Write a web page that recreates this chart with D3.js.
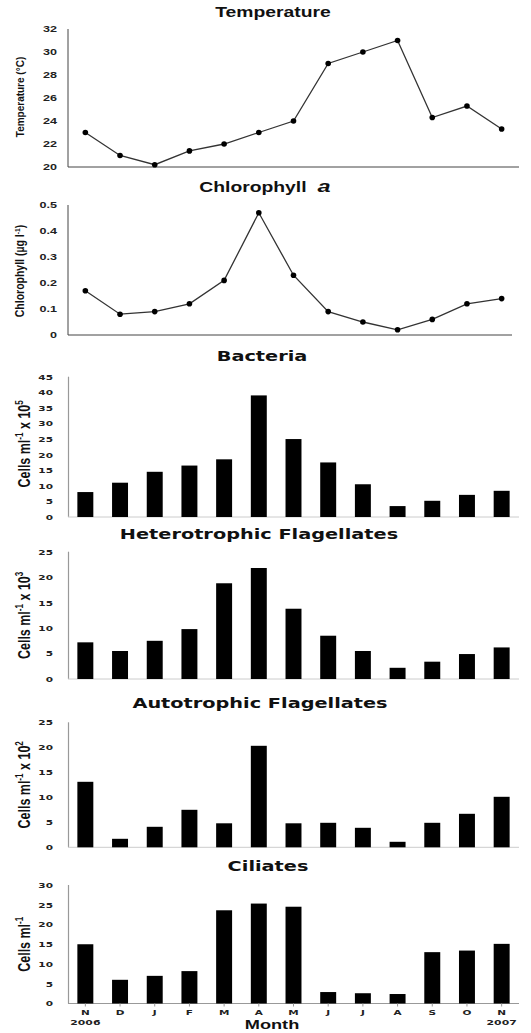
<!DOCTYPE html>
<html><head><meta charset="utf-8">
<script src="https://cdn.jsdelivr.net/npm/d3@7"></script>
<style>body{margin:0;background:#fff} svg{display:block}</style>
</head><body>
<svg id="c" width="531" height="1033"></svg>
<script>
// ---------- data ----------
const months = ["N","D","J","F","M","A","M","J","J","A","S","O","N"];
const yearLabels = ["2006","","","","","","","","","","","","2007"];
const temperature = [23, 21, 20.2, 21.4, 22, 23, 24, 29, 30, 31, 24.3, 25.3, 23.3];
const chlorophyll = [0.17, 0.08, 0.09, 0.12, 0.21, 0.47, 0.23, 0.09, 0.05, 0.02, 0.06, 0.12, 0.14];
const bacteria = [8, 11, 14.5, 16.5, 18.5, 39, 25, 17.5, 10.5, 3.5, 5.2, 7.1, 8.4];
const heteroFlag = [7.2, 5.5, 7.5, 9.8, 18.8, 21.8, 13.8, 8.5, 5.5, 2.2, 3.4, 4.9, 6.2];
const autoFlag = [13.1, 1.7, 4.1, 7.5, 4.8, 20.3, 4.8, 4.9, 3.9, 1.1, 4.9, 6.7, 10.1];
const ciliates = [15.0, 6.0, 7.0, 8.2, 23.6, 25.3, 24.5, 2.9, 2.6, 2.4, 13.0, 13.4, 15.1];
const tempTicks = [20, 22, 24, 26, 28, 30, 32];
const chlTicks = [0, 0.1, 0.2, 0.3, 0.4, 0.5];
const bacteriaTicks = [0, 5, 10, 15, 20, 25, 30, 35, 40, 45];
const flagTicks = [0, 5, 10, 15, 20, 25];
const ciliateTicks = [0, 5, 10, 15, 20, 25, 30];

// ---------- setup ----------
const svg = d3.select("#c");
const x = d3.scalePoint().domain(d3.range(months.length)).range([68, 519]).padding(0.5);
const barW = x.step() * 0.46;
const ARIAL = "'Liberation Sans', Arial, sans-serif";
const DEJA = "'DejaVu Sans', Verdana, sans-serif";

function htext(tx, ty, txt, size, family, sx, anchor, weight, fill) {
  return svg.append("text")
    .attr("transform", `translate(${tx},${ty}) scale(${sx},1)`)
    .attr("text-anchor", anchor || "middle")
    .attr("font-family", family)
    .attr("font-size", size)
    .attr("font-weight", weight || "bold")
    .attr("fill", fill || "#111")
    .text(txt);
}

function ylabel(cx, cy, parts, size, k) {
  const t = svg.append("text")
    .attr("transform", `translate(${cx + size * 0.36 * k},${cy}) rotate(-90) scale(1,${k})`)
    .attr("text-anchor", "middle")
    .attr("font-family", ARIAL)
    .attr("font-size", size)
    .attr("font-weight", "bold")
    .attr("fill", "#111");
  parts.forEach(p => {
    const s = t.append("tspan").text(p.t);
    if (p.sup) {
      s.attr("font-size", size * 0.65).attr("dy", -size * 0.4);
    } else if (p.after) {
      s.attr("dy", size * 0.4);
    }
  });
}

// ---------- line panels ----------
function linePanel(cfg) {
  const y = d3.scaleLinear().domain(cfg.domain).range(cfg.range);
  const axisCol = "#444";
  svg.append("line").attr("x1", 68).attr("x2", 68).attr("y1", y(cfg.domain[1])).attr("y2", y(cfg.domain[0]))
    .attr("stroke", axisCol).attr("stroke-width", 1);
  svg.append("line").attr("x1", 68).attr("x2", cfg.xEnd).attr("y1", y(cfg.domain[0])).attr("y2", y(cfg.domain[0]))
    .attr("stroke", axisCol).attr("stroke-width", 1);
  cfg.ticks.forEach(v => htext(57, y(v) + 3.2, cfg.fmt(v), 9, ARIAL, 1.4, "end", "bold", "#222"));
  const line = d3.line().x((d, i) => x(i)).y(d => y(d));
  svg.append("path").datum(cfg.data).attr("d", line).attr("fill", "none").attr("stroke", "#333").attr("stroke-width", 1.3);
  svg.append("g").selectAll("circle").data(cfg.data).join("circle")
    .attr("cx", (d, i) => x(i)).attr("cy", d => y(d)).attr("r", 2.8).attr("fill", "#000");
}

linePanel({data: temperature, domain: [20, 32], range: [167, 29], ticks: tempTicks, fmt: d => String(d), xEnd: 519});
linePanel({data: chlorophyll, domain: [0, 0.5], range: [335, 205], ticks: chlTicks, fmt: d => d === 0 ? "0" : d.toFixed(1), xEnd: 512});

htext(273, 17, "Temperature", 14, ARIAL, 1.38);
{
  const t = svg.append("text")
    .attr("transform", `translate(265,192) scale(1.38,1)`)
    .attr("text-anchor", "middle").attr("font-family", ARIAL).attr("font-weight", "bold").attr("font-size", 14).attr("fill", "#111");
  t.append("tspan").text("Chlorophyll");
  t.append("tspan").attr("dx", 8).attr("font-style", "italic").attr("font-size", 17).text("a");
}
ylabel(20, 97, [{t: "Temperature (°C)"}], 10, 1.15);
ylabel(20, 271, [{t: "Chlorophyll (µg l"}, {t: "-1", sup: true}, {t: ")", after: true}], 10.5, 1.15);

// ---------- bar panels ----------
function barPanel(cfg) {
  const y = d3.scaleLinear().domain(cfg.domain).range(cfg.range);
  const axisCol = "#999";
  svg.append("line").attr("x1", 68.5).attr("x2", 68.5).attr("y1", y(cfg.domain[1])).attr("y2", y(0))
    .attr("stroke", axisCol).attr("stroke-width", 1.2);
  svg.append("line").attr("x1", 68).attr("x2", 519).attr("y1", y(0)).attr("y2", y(0))
    .attr("stroke", cfg.xAxisCol || "#ccc").attr("stroke-width", 1);
  cfg.ticks.forEach(v => htext(53, y(v) + 2.9, String(v), 7.8, DEJA, 1.35, "end", "bold", "#222"));
  svg.append("g").selectAll("rect").data(cfg.data).join("rect")
    .attr("x", (d, i) => x(i) - barW / 2).attr("width", barW)
    .attr("y", d => y(d)).attr("height", d => y(0) - y(d)).attr("fill", "#000");
  if (cfg.xTicks) {
    svg.append("g").selectAll("line").data(cfg.data).join("line")
      .attr("x1", (d, i) => x(i)).attr("x2", (d, i) => x(i))
      .attr("y1", y(0)).attr("y2", y(0) + 3).attr("stroke", axisCol).attr("stroke-width", 1);
  }
  htext(cfg.titleX, cfg.titleY, cfg.title, 13.5, DEJA, 1.43);
  ylabel(24, (cfg.range[0] + cfg.range[1]) / 2 + cfg.labOff, cfg.label, 12.5, 1.25);
}

const cellsLabel = exp => [{t: "Cells ml"}, {t: "-1", sup: true}, {t: " x 10", after: true}, {t: exp, sup: true}];

barPanel({data: bacteria, domain: [0, 45], range: [517, 376.7], ticks: bacteriaTicks,
  title: "Bacteria", titleX: 262, titleY: 361, label: cellsLabel("5"), labOff: -3});
barPanel({data: heteroFlag, domain: [0, 25], range: [679, 551.7], ticks: flagTicks,
  title: "Heterotrophic Flagellates", titleX: 259, titleY: 539, label: cellsLabel("3"), labOff: 0});
barPanel({data: autoFlag, domain: [0, 25], range: [847.3, 722.3], ticks: flagTicks,
  title: "Autotrophic Flagellates", titleX: 260, titleY: 708, label: cellsLabel("2"), labOff: 0});
barPanel({data: ciliates, domain: [0, 30], range: [1003.5, 885], ticks: ciliateTicks,
  title: "Ciliates", titleX: 268, titleY: 871, label: [{t: "Cells ml"}, {t: "-1", sup: true}], labOff: 0,
  xTicks: true, xAxisCol: "#999"});

// month labels
months.forEach((m, i) => htext(x(i), 1014.5, m, 7.5, DEJA, 1.4, "middle", "bold", "#222"));
yearLabels.forEach((yv, i) => { if (yv) htext(x(i), 1025, yv, 7.5, DEJA, 1.45, "middle", "bold", "#222"); });
htext(272, 1029, "Month", 13, ARIAL, 1.4, "middle", "bold", "#111");
</script>
</body></html>
